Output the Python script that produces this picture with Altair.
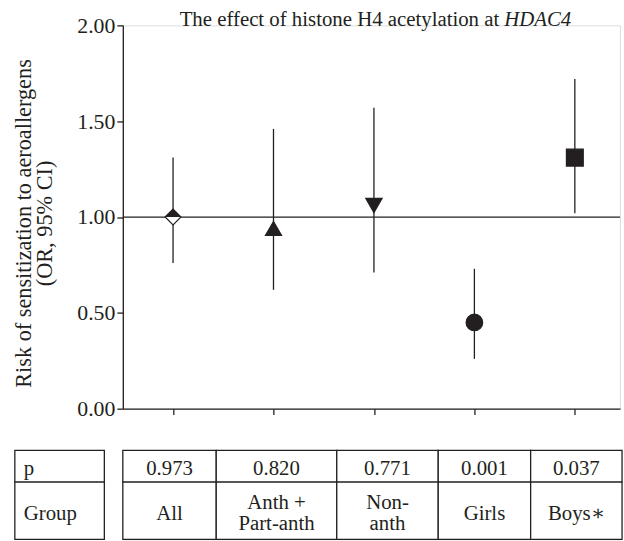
import altair as alt
import pandas as pd

# Odds ratios (95% CI) for sensitization to aeroallergens by subgroup
groups = ["All", "Anth +\nPart-anth", "Non-\nanth", "Girls", "Boys∗"]
odds_ratio = [1.00, 0.94, 1.06, 0.45, 1.31]
ci_low = [0.76, 0.62, 0.71, 0.26, 1.02]
ci_high = [1.31, 1.46, 1.57, 0.73, 1.72]
p_values = ["0.973", "0.820", "0.771", "0.001", "0.037"]
y_ticks = [0.0, 0.5, 1.0, 1.5, 2.0]
reference_or = [1.0]
row_names = ["p", "Group"]

FONT = "Liberation Serif, DejaVu Serif, serif"
INK = "#231f20"
FS = 21

# marker styling per group
shapes = ["diamond", "triangle-up", "triangle-down", "circle", "square"]
sizes = [256, 289, 289, 225, 169]
fills = ["white", INK, INK, INK, INK]

# table grid, x in group-index units, y in row units
column_edges = [0.5, 1.43, 2.63, 3.64, 4.56, 5.47]
header_column = [-0.575, 0.316]
row_edges = [0.0, 1.0, 2.8]
TABLE_H = 90
LINE_H = 21  # px between wrapped lines in the table

X_DOMAIN = [0.5, 5.45]
W = 502
H = 387

df = pd.DataFrame({
    "pos": list(range(1, len(groups) + 1)),
    "group": groups,
    "or": odds_ratio,
    "lo": ci_low,
    "hi": ci_high,
})

x_scale = alt.Scale(domain=X_DOMAIN, nice=False, zero=False)
y_scale = alt.Scale(domain=[0, 2], nice=False, zero=False)

x_axis = alt.Axis(values=list(df["pos"]), labels=False, title=None, grid=False,
                  tickSize=6, tickWidth=1.3, tickColor=INK,
                  domainWidth=1.3, domainColor=INK)
y_axis = alt.Axis(values=y_ticks, format=".2f", grid=False,
                  tickSize=6, tickWidth=1.3, tickColor=INK,
                  domainWidth=1.3, domainColor=INK,
                  labelFont=FONT, labelFontSize=22, labelColor=INK, labelPadding=2,
                  title=["Risk of sensitization to aeroallergens", "(OR, 95% CI)"],
                  titleFont=FONT, titleFontSize=22.5, titleFontWeight="normal",
                  titleColor=INK, titleLineHeight=21.5, titlePadding=20,
                  titleY=H / 2 + 6)

base = alt.Chart(df)

ref_line = alt.Chart(pd.DataFrame({"ref": reference_or})).mark_rule(
    color=INK, strokeWidth=1.3
).encode(y=alt.Y("ref:Q", scale=y_scale, axis=y_axis))

ci_bars = base.mark_rule(color=INK, strokeWidth=1.3).encode(
    x=alt.X("pos:Q", scale=x_scale, axis=x_axis),
    y=alt.Y("lo:Q", scale=y_scale, axis=y_axis),
    y2="hi:Q",
)

points = base.mark_point(filled=True, opacity=1, strokeWidth=1.2).encode(
    x="pos:Q",
    y="or:Q",
    shape=alt.Shape("group:N", scale=alt.Scale(domain=groups, range=shapes), legend=None),
    size=alt.Size("group:N", scale=alt.Scale(domain=groups, range=sizes), legend=None),
    fill=alt.Fill("group:N", scale=alt.Scale(domain=groups, range=fills), legend=None),
    stroke=alt.value(INK),
)

# upper half of the "All" diamond is solid
half_diamond = base.transform_filter(alt.datum.group == "All").mark_point(
    shape="M-1,0L0,-1L1,0Z", size=256, filled=True, opacity=1, color=INK
).encode(x="pos:Q", y="or:Q")

title_df = pd.DataFrame({"main": ["The effect of histone H4 acetylation at"], "gene": ["HDAC4"]})
title_main = alt.Chart(title_df).mark_text(
    align="right", baseline="alphabetic", font=FONT, fontSize=FS, color=INK, dx=-5
).encode(x=alt.value(385), y=alt.value(1), text="main:N")
title_gene = alt.Chart(title_df).mark_text(
    align="left", baseline="alphabetic", font=FONT, fontSize=FS, color=INK, fontStyle="italic"
).encode(x=alt.value(385), y=alt.value(1), text="gene:N")

plot = alt.layer(ref_line, ci_bars, points, half_diamond, title_main, title_gene).properties(
    width=W, height=H
)

# ---- table of p-values and group names ----
cells = []
for r in range(2):
    cells.append({"x1": header_column[0], "x2": header_column[1],
                  "y1": row_edges[r], "y2": row_edges[r + 1]})
    for c in range(len(groups)):
        cells.append({"x1": column_edges[c], "x2": column_edges[c + 1],
                      "y1": row_edges[r], "y2": row_edges[r + 1]})
cells = pd.DataFrame(cells)

unit_px = TABLE_H / (row_edges[-1] - row_edges[0])
line_step = LINE_H / unit_px
labels = []
for c in range(len(groups)):
    xc = (column_edges[c] + column_edges[c + 1]) / 2
    labels.append({"x": xc, "y": (row_edges[0] + row_edges[1]) / 2, "text": p_values[c]})
    lines = groups[c].split("\n")
    mid = (row_edges[1] + row_edges[2]) / 2
    for i, line in enumerate(lines):
        labels.append({"x": xc, "y": mid + (i - (len(lines) - 1) / 2) * line_step, "text": line})
labels = pd.DataFrame(labels)

heads = pd.DataFrame({
    "x": [header_column[0]] * 2,
    "y": [(row_edges[i] + row_edges[i + 1]) / 2 for i in range(2)],
    "text": row_names,
})

tx_scale = alt.Scale(domain=X_DOMAIN, nice=False, zero=False)
ty_scale = alt.Scale(domain=[row_edges[0], row_edges[-1]], reverse=True, nice=False, zero=False)

grid = alt.Chart(cells).mark_rect(fill="white", stroke=INK, strokeWidth=1.3).encode(
    x=alt.X("x1:Q", scale=tx_scale, axis=None),
    x2="x2:Q",
    y=alt.Y("y1:Q", scale=ty_scale, axis=None),
    y2="y2:Q",
)
cell_text = alt.Chart(labels).mark_text(
    font=FONT, fontSize=FS, color=INK, baseline="middle", dy=3
).encode(x="x:Q", y="y:Q", text="text:N")
head_text = alt.Chart(heads).mark_text(
    font=FONT, fontSize=FS, color=INK, baseline="middle", align="left", dx=9, dy=3
).encode(x="x:Q", y="y:Q", text="text:N")

table = alt.layer(grid, cell_text, head_text).properties(width=W, height=TABLE_H)

chart = alt.vconcat(plot, table, spacing=42, bounds="flush").properties(
    padding={"left": 12, "top": 6, "right": 0, "bottom": 0}
).configure_view(stroke=None).configure(background="white", font=FONT)

chart.save("out.html", embed_options={"renderer": "svg", "actions": False})
